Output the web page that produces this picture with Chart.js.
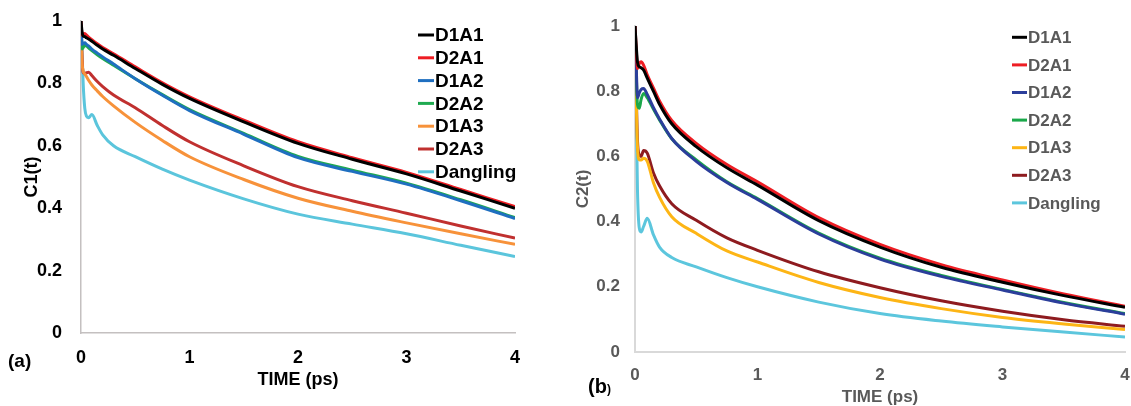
<!DOCTYPE html>
<html>
<head>
<meta charset="utf-8">
<script src="https://cdn.jsdelivr.net/npm/chart.js@4.4.0/dist/chart.umd.min.js"></script>
<style>
  body { margin: 0; background: #fff; }
  #wrapA { position: absolute; left: 0; top: 0; }
  #wrapB { position: absolute; left: 560px; top: 0; }
</style>
</head>
<body>
<div id="wrapA"><canvas id="chartA" width="560" height="406"></canvas></div>
<div id="wrapB"><canvas id="chartB" width="571" height="406"></canvas></div>
<script>
const FONT = "'Liberation Sans', Arial, sans-serif";

// sample times (ps), shared by every curve
const times = [0, 0.01, 0.02, 0.035, 0.05, 0.07, 0.1, 0.15, 0.2, 0.3, 0.5, 0.75, 1, 1.5, 2, 2.5, 3, 3.5, 4];
const seriesNames = ['D1A1', 'D2A1', 'D1A2', 'D2A2', 'D1A3', 'D2A3', 'Dangling'];

const xTicks = [0, 1, 2, 3, 4];
const yTicks = [0, 0.2, 0.4, 0.6, 0.8, 1];

// C1(t)
const c1D1A1 = [1, 0.965, 0.952, 0.95, 0.946, 0.942, 0.935, 0.922, 0.91, 0.89, 0.848, 0.797, 0.752, 0.677, 0.608, 0.557, 0.51, 0.455, 0.40];
const c1D2A1 = [1, 0.955, 0.958, 0.96, 0.955, 0.948, 0.94, 0.927, 0.915, 0.895, 0.853, 0.802, 0.757, 0.682, 0.613, 0.562, 0.515, 0.46, 0.405];
const c1D1A2 = [1, 0.925, 0.928, 0.93, 0.925, 0.92, 0.91, 0.897, 0.885, 0.862, 0.815, 0.762, 0.713, 0.637, 0.562, 0.518, 0.477, 0.424, 0.367];
const c1D2A2 = [1, 0.91, 0.915, 0.922, 0.92, 0.914, 0.905, 0.892, 0.88, 0.858, 0.815, 0.764, 0.716, 0.64, 0.566, 0.522, 0.48, 0.427, 0.37];
const c1D1A3 = [1, 0.87, 0.84, 0.83, 0.822, 0.81, 0.795, 0.776, 0.758, 0.728, 0.675, 0.617, 0.565, 0.492, 0.432, 0.39, 0.353, 0.318, 0.284];
const c1D2A3 = [1, 0.88, 0.835, 0.832, 0.834, 0.836, 0.825, 0.806, 0.79, 0.763, 0.722, 0.665, 0.613, 0.536, 0.469, 0.424, 0.384, 0.343, 0.304];
const c1Dangling = [1, 0.9, 0.8, 0.72, 0.695, 0.69, 0.70, 0.665, 0.635, 0.60, 0.565, 0.525, 0.49, 0.43, 0.381, 0.349, 0.318, 0.281, 0.245];

// C2(t)
const c2D1A1 = [1, 0.94, 0.89, 0.875, 0.872, 0.865, 0.84, 0.80, 0.76, 0.70, 0.63, 0.565, 0.512, 0.403, 0.322, 0.26, 0.214, 0.173, 0.137];
const c2D2A1 = [1, 0.93, 0.87, 0.885, 0.89, 0.88, 0.85, 0.81, 0.77, 0.71, 0.64, 0.575, 0.522, 0.412, 0.33, 0.268, 0.221, 0.178, 0.14];
const c2D1A2 = [1, 0.88, 0.78, 0.795, 0.805, 0.808, 0.79, 0.75, 0.715, 0.655, 0.585, 0.52, 0.468, 0.362, 0.285, 0.232, 0.19, 0.15, 0.116];
const c2D2A2 = [1, 0.86, 0.76, 0.748, 0.775, 0.793, 0.78, 0.745, 0.712, 0.654, 0.589, 0.522, 0.471, 0.365, 0.288, 0.235, 0.192, 0.152, 0.118];
const c2D1A3 = [1, 0.78, 0.63, 0.59, 0.589, 0.594, 0.585, 0.52, 0.475, 0.415, 0.364, 0.31, 0.276, 0.213, 0.167, 0.133, 0.106, 0.086, 0.069];
const c2D2A3 = [1, 0.8, 0.65, 0.605, 0.6, 0.618, 0.61, 0.55, 0.51, 0.455, 0.404, 0.35, 0.312, 0.246, 0.197, 0.157, 0.125, 0.099, 0.079];
const c2Dangling = [1, 0.75, 0.5, 0.38, 0.368, 0.385, 0.41, 0.36, 0.322, 0.29, 0.261, 0.228, 0.20, 0.153, 0.118, 0.095, 0.077, 0.061, 0.046];

const colorsA = ['#000000', '#ee1d23', '#1f6fc0', '#1faa50', '#f7923a', '#c0302f', '#5bc5dc'];
const colorsB = ['#000000', '#ee1d23', '#2b3e9b', '#1aa84a', '#fdb515', '#8e1b1f', '#5cc6dd'];

function toPoints(values) {
  return values.map((v, i) => ({ x: times[i], y: v }));
}

function makeDatasets(seriesList, colors) {
  return seriesList.map((values, i) => ({
    label: seriesNames[i],
    data: toPoints(values),
    borderColor: colors[i],
    backgroundColor: colors[i],
    borderWidth: 3,
    pointRadius: 0,
    fill: false,
    cubicInterpolationMode: 'monotone'
  }));
}

// legend sitting inside the plot area: a short line and the name per dataset
const insideLegend = {
  id: 'insideLegend',
  afterDatasetsDraw(chart, args, opts) {
    const ctx = chart.ctx;
    ctx.save();
    ctx.font = 'bold ' + opts.size + 'px ' + FONT;
    ctx.textBaseline = 'middle';
    ctx.textAlign = 'left';
    chart.data.datasets.forEach((ds, i) => {
      const y = opts.y + i * opts.gap;
      ctx.strokeStyle = ds.borderColor;
      ctx.lineWidth = 3;
      ctx.beginPath();
      ctx.moveTo(opts.x, y);
      ctx.lineTo(opts.x + opts.lineLen, y);
      ctx.stroke();
      ctx.fillStyle = opts.color;
      ctx.fillText(ds.label, opts.x + opts.lineLen + 1, y + 1);
    });
    ctx.restore();
  }
};

// panel tag such as "(a)"
const panelTag = {
  id: 'panelTag',
  afterDraw(chart, args, opts) {
    const ctx = chart.ctx;
    ctx.save();
    ctx.textBaseline = 'alphabetic';
    ctx.textAlign = 'left';
    ctx.fillStyle = opts.color;
    let x = opts.x;
    opts.parts.forEach(p => {
      ctx.font = 'bold ' + p.size + 'px ' + FONT;
      ctx.fillText(p.text, x, opts.y);
      x += ctx.measureText(p.text).width;
    });
    ctx.restore();
  }
};

function makeChart(id, datasets, s) {
  return new Chart(document.getElementById(id), {
    type: 'line',
    data: { datasets: datasets },
    plugins: [insideLegend, panelTag],
    options: {
      responsive: false,
      animation: false,
      layout: { padding: { left: 0, right: s.padRight, top: s.padTop, bottom: 0 } },
      plugins: {
        legend: { display: false },
        tooltip: { enabled: false },
        insideLegend: s.legend,
        panelTag: s.tag
      },
      scales: {
        x: {
          type: 'linear',
          min: 0,
          max: 4,
          afterBuildTicks: axis => { axis.ticks = xTicks.map(v => ({ value: v })); },
          afterFit: axis => {
            axis.height = s.xHeight;
            axis.paddingLeft = 0;
            axis.paddingRight = 0;
          },
          grid: { display: false, drawTicks: false },
          border: { display: true, color: s.axisColor, width: s.axisWidth },
          ticks: { color: s.tickColor, padding: s.xTickPad, font: { family: FONT, size: s.tickSize, weight: 'bold' } },
          title: {
            display: true,
            text: 'TIME (ps)',
            color: s.tickColor,
            padding: { top: 0, bottom: s.xTitlePad },
            font: { family: FONT, size: s.titleSize, weight: 'bold' }
          }
        },
        y: {
          min: 0,
          max: 1,
          afterBuildTicks: axis => { axis.ticks = yTicks.map(v => ({ value: v })); },
          afterFit: axis => {
            axis.width = s.yWidth;
            axis.paddingTop = 0;
            axis.paddingBottom = 0;
          },
          grid: { display: false, drawTicks: false },
          border: { display: true, color: s.axisColor, width: s.axisWidth },
          ticks: {
            color: s.tickColor,
            padding: s.yTickPad,
            font: { family: FONT, size: s.tickSize, weight: 'bold' },
            callback: v => String(Math.round(v * 10) / 10)
          },
          title: {
            display: true,
            text: s.yTitle,
            color: s.tickColor,
            padding: { top: s.yTitlePad, bottom: 0 },
            font: { family: FONT, size: s.titleSize, weight: 'bold' }
          }
        }
      }
    }
  });
}

makeChart('chartA',
  makeDatasets([c1D1A1, c1D2A1, c1D1A2, c1D2A2, c1D1A3, c1D2A3, c1Dangling], colorsA), {
    padRight: 45, padTop: 21, xHeight: 73, yWidth: 81,
    axisColor: '#c4c0c0', axisWidth: 1.5, tickColor: '#000000',
    tickSize: 18, titleSize: 18, xTickPad: 14, yTickPad: 19,
    xTitlePad: 15, yTitlePad: 21, yTitle: 'C1(t)',
    legend: { x: 418, y: 35, gap: 22.8, lineLen: 16, size: 19, color: '#000000' },
    tag: { x: 8, y: 367, color: '#000000', parts: [{ text: '(a)', size: 19 }] }
  });

makeChart('chartB',
  makeDatasets([c2D1A1, c2D2A1, c2D1A2, c2D2A2, c2D1A3, c2D2A3, c2Dangling], colorsB), {
    padRight: 6, padTop: 26, xHeight: 54, yWidth: 75,
    axisColor: '#d9d9d9', axisWidth: 2, tickColor: '#595959',
    tickSize: 17, titleSize: 17, xTickPad: 13, yTickPad: 15,
    xTitlePad: -2, yTitlePad: 13, yTitle: 'C2(t)',
    legend: { x: 452, y: 37.3, gap: 27.6, lineLen: 15, size: 17, color: '#595959' },
    tag: { x: 28, y: 393, color: '#000000', parts: [{ text: '(b', size: 20 }, { text: ')', size: 12 }] }
  });
</script>
</body>
</html>
